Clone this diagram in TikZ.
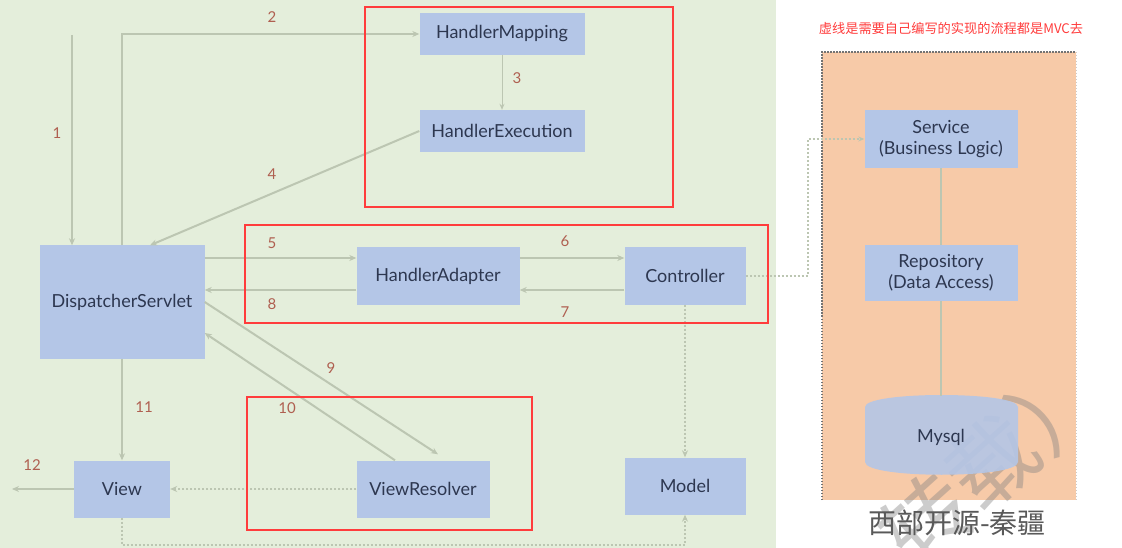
\documentclass[tikz,border=0pt]{standalone}
\usepackage{fontspec}
\setmainfont{Lato}
\setsansfont{Lato}
\newfontfamily\cjk{Noto Sans CJK SC}
\usetikzlibrary{arrows.meta}
\definecolor{greenbg}{RGB}{228,238,219}
\definecolor{orangebg}{RGB}{247,202,168}
\definecolor{boxblue}{RGB}{180,198,231}
\definecolor{boxtext}{RGB}{45,55,80}
\definecolor{flowgray}{RGB}{188,198,178}
\definecolor{numred}{RGB}{175,95,80}
\definecolor{markred}{RGB}{255,60,60}
\begin{document}
\begin{tikzpicture}[x=1pt, y=-1pt,
    box/.style={fill=boxblue, inner sep=0pt, text=boxtext, font=\fontsize{18}{21}\selectfont, align=center},
    flow/.style={draw=flowgray, line width=2pt, -{Stealth[length=7pt,width=6pt]}},
    thinflow/.style={draw=flowgray, line width=1pt, -{Stealth[length=6pt,width=5pt]}},
    dots/.style={draw=flowgray, line width=2pt, dash pattern=on 2pt off 2pt},
    num/.style={text=numred, font=\fontsize{15}{18}\selectfont},
    redbox/.style={draw=markred, line width=2.5pt}]
    \useasboundingbox (0,0) rectangle (1122,548);

    % Backgrounds
    \fill[greenbg] (0,0) rectangle (776,548);
    \fill[orangebg] (822,52) rectangle (1076,500);
    \draw[black!55, line width=2pt, dash pattern=on 1.5pt off 1.5pt] (822,500) -- (822,52) -- (1076,52);
    \draw[black!20, line width=1pt, dotted] (1076,52) -- (1076,500);

    % Watermark
    \node[text=black!50, opacity=0.4, rotate=42, font=\cjk\fontsize{88}{100}\selectfont] (mark) at (992,462) {转载）};

    % Boxes
    \node[box, minimum width=165, minimum height=42] (hmap) at (502,34) {HandlerMapping};
    \node[box, minimum width=165, minimum height=42] (hexec) at (502,131) {HandlerExecution};
    \node[box, minimum width=165, minimum height=113] (ds) at (122,302) {DispatcherServlet};
    \node[box, minimum width=163, minimum height=57] (hadapt) at (438,276) {HandlerAdapter};
    \node[box, minimum width=121, minimum height=57] (ctrl) at (685,276) {Controller};
    \node[box, minimum width=96, minimum height=57] (view) at (122,489) {View};
    \node[box, minimum width=133, minimum height=57] (vres) at (423,489) {ViewResolver};
    \node[box, minimum width=121, minimum height=57] (model) at (685,486) {Model};
    \node[box, minimum width=153, minimum height=58] (service) at (941,139) {Service\\(Business Logic)};
    \node[box, minimum width=153, minimum height=56] (repo) at (941,273) {Repository\\(Data Access)};

    % Mysql cylinder
    \fill[boxblue, opacity=0.9] (865,407) .. controls (865,391) and (1018,391) .. (1018,407)
        -- (1018,462) .. controls (1018,479) and (865,479) .. (865,462) -- cycle;
    \node[box, fill=none, minimum width=153, minimum height=82] (mysql) at (941,437) {Mysql};

    % Free ends
    \coordinate (start) at (72,35);
    \coordinate (out) at (12,489);
    \coordinate (bottom) at (0,545);

    % Arrows
    \draw[flow] (start) -- (start |- ds.north);
    \draw[flow] (ds.north) |- (hmap.west);
    \draw[thinflow] (hmap) -- (hexec);
    \draw[flow] (hexec.west) -- ([xshift=28pt]ds.north);
    \draw[flow] ([yshift=18pt]hadapt.west -| ds.east) -- ([yshift=18pt]hadapt.west);
    \draw[flow] ([yshift=-14pt]hadapt.west) -- ([yshift=-14pt]hadapt.west -| ds.east);
    \draw[flow] ([yshift=18pt]hadapt.east) -- ([yshift=18pt]hadapt.east -| ctrl.west);
    \draw[flow] ([yshift=-14pt]ctrl.west) -- ([yshift=-14pt]ctrl.west -| hadapt.east);
    \draw[flow] (ds.east) -- ([xshift=15pt, yshift=6pt]vres.north);
    \draw[flow] ([xshift=-28pt]vres.north) -- ([yshift=-31pt]ds.east);
    \draw[flow] (ds.south) -- (view.north);
    \draw[flow] (view.west) -- (out);

    % Dotted lines
    \draw[dots, -{Stealth[length=7pt,width=6pt]}] (vres.west) -- (view.east);
    \draw[dots, -{Stealth[length=7pt,width=6pt]}] (ctrl.south) -- (model.north);
    \draw[dots, -{Stealth[length=7pt,width=6pt]}] (view.south) -- (view.south |- bottom) -| (model.south);
    \draw[dots, -{Stealth[length=6pt,width=5pt]}] (ctrl.east) -- ++(62,0) |- (service.west);

    % Service, repository, database
    \draw[flowgray, line width=2.5pt] (service) -- (repo);
    \draw[flowgray, line width=2.5pt] (repo) -- (mysql.north);

    % Step numbers
    \node[num] (n1) at (57,133) {1};
    \node[num] (n2) at (272,17) {2};
    \node[num] (n3) at (517,78) {3};
    \node[num] (n4) at (272,174) {4};
    \node[num] (n5) at (272,243) {5};
    \node[num] (n6) at (565,241) {6};
    \node[num] (n7) at (565,312) {7};
    \node[num] (n8) at (272,304) {8};
    \node[num] (n9) at (331,368) {9};
    \node[num] (n10) at (287,408) {10};
    \node[num] (n11) at (144,407) {11};
    \node[num] (n12) at (32,465) {12};

    % Red frames
    \draw[redbox] (365,7) rectangle (673,207);
    \draw[redbox] (245,225) rectangle (768,323);
    \draw[redbox] (247,397) rectangle (532,530);

    % Notes
    \node[text=markred, font=\cjk\fontsize{13.2}{16}\selectfont] (note) at (951,28) {虚线是需要自己编写的实现的流程都是MVC去};
    \node[text=black!65, font=\cjk\fontsize{28}{32}\selectfont] (caption) at (957,523) {西部开源-秦疆};
\end{tikzpicture}
\end{document}
